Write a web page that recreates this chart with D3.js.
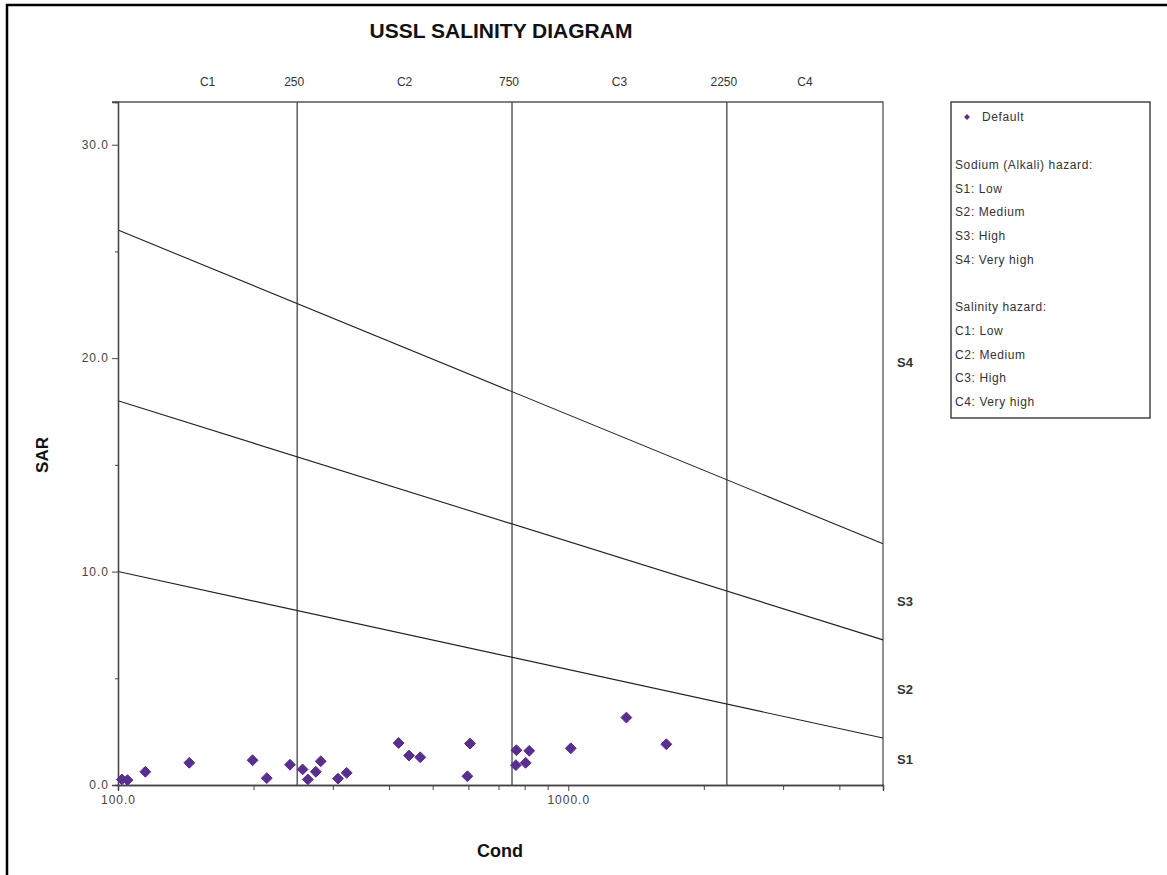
<!DOCTYPE html>
<html>
<head>
<meta charset="utf-8">
<script src="https://cdn.jsdelivr.net/npm/d3@7"></script>
<style>
  body { margin: 0; background: #fff; }
  text { font-family: "Liberation Sans", Arial, sans-serif; }
</style>
</head>
<body>
<div id="chart"></div>
<script>
// sample points (Cond, SAR)
const cond = [102, 105, 115, 144, 199, 214, 241, 257, 264, 275, 282, 308, 322,
  420, 443, 469, 597, 605, 767, 765, 804, 819, 1013, 1346, 1651];
const sar = [0.26, 0.23, 0.62, 1.04, 1.16, 0.32, 0.95, 0.73, 0.26, 0.62, 1.11, 0.30, 0.57,
  1.97, 1.38, 1.30, 0.41, 1.94, 1.63, 0.93, 1.04, 1.60, 1.72, 3.16, 1.91];

// hazard class boundaries
const salinityBreaks = [250, 750, 2250];
const salinityLabels = ["C1", "C2", "C3", "C4"];
const lineCond = [100, 5000];
const sodiumLines = [[10, 2.2], [18, 6.8], [26, 11.3]];
const sodiumLabels = ["S1", "S2", "S3", "S4"];
const sodiumLabelSar = [1.2, 4.5, 8.6, 19.8];

const yTicks = [0, 10, 20, 30];
const yMinor = [5, 15, 25];
const xTicks = [100, 1000];
const xMinor = [200, 300, 400, 500, 600, 700, 800, 900, 2000, 3000, 4000, 5000];

const legendLines = ["Sodium (Alkali) hazard:", "S1: Low", "S2: Medium", "S3: High", "S4: Very high",
  "", "Salinity hazard:", "C1: Low", "C2: Medium", "C3: High", "C4: Very high"];

const W = 1167, H = 875;
const m = { left: 118, right: 883, top: 102, bottom: 785 };
const purple = "#5a2e91";

const svg = d3.select("#chart").append("svg").attr("width", W).attr("height", H);

// outer frame (top + left only)
svg.append("path").attr("d", `M7,${H} L7,5 L${W},5`)
  .attr("fill", "none").attr("stroke", "#000").attr("stroke-width", 2.5);

const x = d3.scaleLog().domain([100, 5000]).range([m.left, m.right]);
const y = d3.scaleLinear().domain([0, 32]).range([m.bottom, m.top]);

// title
svg.append("text").attr("x", 501).attr("y", 38).attr("text-anchor", "middle")
  .attr("font-size", 21).attr("font-weight", "bold").attr("fill", "#111")
  .text("USSL SALINITY DIAGRAM");

// plot frame top + right
svg.append("path").attr("d", `M${m.left - 6},${m.top} L${m.right},${m.top} L${m.right},${m.bottom}`)
  .attr("fill", "none").attr("stroke", "#555").attr("stroke-width", 1.3);

// salinity class vertical lines
svg.selectAll(".cline").data(salinityBreaks).enter().append("line")
  .attr("x1", d => x(d)).attr("x2", d => x(d))
  .attr("y1", m.top).attr("y2", m.bottom)
  .attr("stroke", "#444").attr("stroke-width", 1.3);

svg.selectAll(".cbreak").data(salinityBreaks).enter().append("text")
  .attr("x", d => x(d) - 3).attr("y", 86).attr("text-anchor", "middle")
  .attr("font-size", 12).attr("fill", "#333").text(d => d);

const edges = [100].concat(salinityBreaks, [5000]);
svg.selectAll(".clab").data(salinityLabels).enter().append("text")
  .attr("x", (d, i) => (x(edges[i]) + x(edges[i + 1])) / 2)
  .attr("y", 86).attr("text-anchor", "middle")
  .attr("font-size", 12).attr("fill", "#333").text(d => d);

// sodium hazard lines
const line = d3.line().x(d => x(d[0])).y(d => y(d[1]));
svg.selectAll(".sline").data(sodiumLines).enter().append("path")
  .attr("d", d => line(lineCond.map((c, i) => [c, d[i]])))
  .attr("fill", "none").attr("stroke", "#222").attr("stroke-width", 1.1);

svg.selectAll(".slab").data(sodiumLabels).enter().append("text")
  .attr("x", 897).attr("y", (d, i) => y(sodiumLabelSar[i]) + 5)
  .attr("font-size", 13).attr("font-weight", "bold").attr("fill", "#333").text(d => d);

// axes
svg.append("g").attr("transform", `translate(${m.left},0)`)
  .call(d3.axisLeft(y).tickValues(yTicks).tickSize(6).tickFormat(d3.format(".1f")));
svg.append("g").attr("transform", `translate(${m.left},0)`)
  .call(d3.axisLeft(y).tickValues(yMinor).tickSize(3).tickFormat(""));
const xAxis = svg.append("g").attr("transform", `translate(0,${m.bottom})`)
  .call(d3.axisBottom(x).tickValues(xTicks).tickSize(6).tickFormat(d3.format(".1f")));
svg.append("g").attr("transform", `translate(0,${m.bottom})`)
  .call(d3.axisBottom(x).tickValues(xMinor).tickSize(5).tickFormat(""));

svg.selectAll(".domain").attr("stroke", "#444").attr("stroke-width", 1.3);
svg.selectAll(".tick line").attr("stroke", "#444");
svg.selectAll(".tick text").attr("font-size", 12).attr("fill", "#444")
  .attr("letter-spacing", 1)
  .attr("font-family", "Liberation Sans, Arial, sans-serif");
xAxis.selectAll(".tick text").attr("dy", "0.85em");

// axis titles
svg.append("text").attr("x", 500).attr("y", 857).attr("text-anchor", "middle")
  .attr("font-size", 18).attr("font-weight", "bold").attr("fill", "#111").text("Cond");
svg.append("text").attr("transform", "translate(48,455) rotate(-90)")
  .attr("text-anchor", "middle").attr("font-size", 17).attr("font-weight", "bold")
  .attr("fill", "#111").text("SAR");

// points
const diamond = d3.symbol().type(d3.symbolDiamond2).size(75);
svg.selectAll(".pt").data(cond.map((c, i) => [c, sar[i]])).enter().append("path")
  .attr("d", diamond)
  .attr("transform", d => `translate(${x(d[0])},${y(d[1])})`)
  .attr("fill", purple).attr("stroke", purple).attr("stroke-width", 1)
  .attr("stroke-linejoin", "round");

// legend
const lg = svg.append("g");
lg.append("rect").attr("x", 951).attr("y", 102).attr("width", 199).attr("height", 316)
  .attr("fill", "#fff").attr("stroke", "#444").attr("stroke-width", 1.5);
lg.append("path").attr("d", d3.symbol().type(d3.symbolDiamond2).size(22))
  .attr("transform", "translate(967,117)").attr("fill", purple);
lg.append("text").attr("x", 982).attr("y", 121).attr("font-size", 12).attr("fill", "#333")
  .attr("letter-spacing", 0.6).text("Default");
lg.selectAll(".lt").data(legendLines).enter().append("text")
  .attr("x", 955).attr("y", (d, i) => 169 + i * 23.7)
  .attr("font-size", 12).attr("fill", "#333").attr("letter-spacing", 0.6).text(d => d);
</script>
</body>
</html>
